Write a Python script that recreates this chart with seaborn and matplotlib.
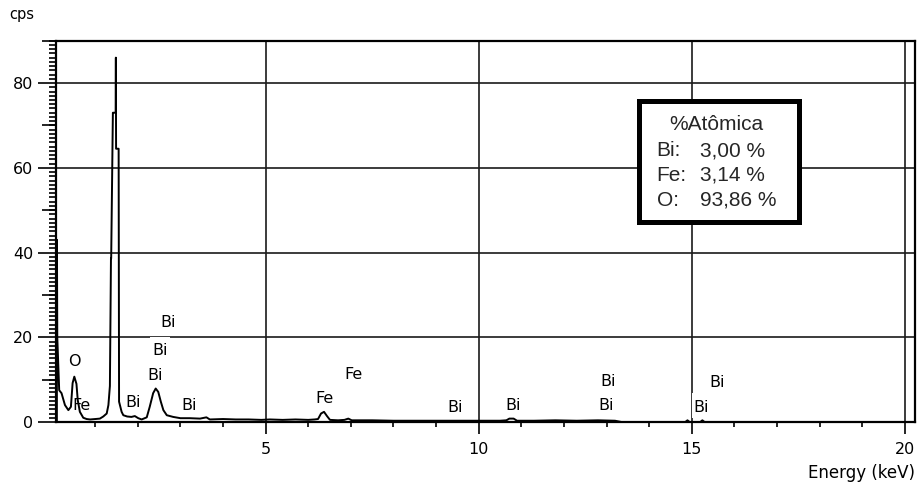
import matplotlib
matplotlib.use("Agg")
import matplotlib.pyplot as plt
from matplotlib.patches import Rectangle
from matplotlib.path import Path
from matplotlib.ticker import MultipleLocator, FixedLocator
import seaborn as sns
import pandas as pd

# EDS spectrum: energy (keV) and counts per second
energy = [0.100, 0.102, 0.110, 0.155, 0.21, 0.29, 0.37, 0.43, 0.47, 0.51, 0.56,
          0.59, 0.64, 0.72, 0.80, 0.88, 1.00, 1.11, 1.19, 1.27, 1.31, 1.345,
          1.370, 1.375, 1.415, 1.420, 1.480, 1.485, 1.490, 1.550, 1.560, 1.62,
          1.66, 1.75, 1.85, 1.93, 2.01, 2.09, 2.21, 2.28, 2.36, 2.42, 2.48,
          2.54, 2.60, 2.68, 2.83, 3.00, 3.22, 3.46, 3.61, 3.69, 4.00, 4.30,
          4.60, 4.90, 5.10, 5.40, 5.70, 6.00, 6.15, 6.23, 6.30, 6.37, 6.44,
          6.51, 6.70, 6.85, 6.94, 7.02, 7.50, 8.00, 8.50, 9.00, 9.50, 10.00,
          10.50, 10.65, 10.72, 10.82, 10.90, 11.30, 11.80, 12.30, 12.80, 13.20,
          13.35, 14.85, 14.90, 14.95, 15.20, 15.25, 15.30, 20.24]
cps = [0.0, 43.0, 20.0, 7.5, 6.8, 4.0, 2.8, 3.6, 9.2, 10.7, 9.0,
       5.2, 2.4, 1.0, 0.7, 0.6, 0.7, 0.8, 1.3, 2.0, 4.0, 8.5,
       38.6, 38.6, 73.0, 73.0, 73.0, 86.0, 64.5, 64.5, 4.8, 2.4,
       1.6, 1.3, 1.2, 1.4, 0.9, 0.6, 1.1, 3.6, 6.8, 7.9, 7.1,
       4.8, 2.8, 1.6, 1.2, 0.9, 0.9, 0.8, 1.1, 0.6, 0.7, 0.6,
       0.6, 0.5, 0.6, 0.5, 0.6, 0.5, 0.6, 0.7, 2.0, 2.4, 1.4,
       0.5, 0.4, 0.5, 0.8, 0.4, 0.4, 0.3, 0.3, 0.3, 0.3, 0.3,
       0.3, 0.4, 0.8, 0.8, 0.3, 0.3, 0.4, 0.3, 0.4, 0.3,
       0.0, 0.0, 0.4, 0.0, 0.0, 0.4, 0.0, 0.0]

# Element line markers: energy, height, element
line_energy = [0.50, 0.69, 1.89, 2.40, 2.52, 2.71, 3.20, 6.39, 7.06,
               9.44, 10.81, 13.03, 12.99, 15.23, 15.59]
line_height = [14.2, 3.8, 4.5, 10.9, 16.8, 23.4, 4.0, 5.5, 11.3,
               3.4, 3.8, 9.6, 3.8, 3.5, 9.3]
line_element = ["O", "Fe", "Bi", "Bi", "Bi", "Bi", "Bi", "Fe", "Fe",
                "Bi", "Bi", "Bi", "Bi", "Bi", "Bi"]

# Atomic composition
comp_elements = ["Bi:", "Fe:", "O:"]
comp_values = ["3,00 %", "3,14 %", "93,86 %"]
comp_title = "%Atômica"

x_major = [5, 10, 15, 20]
y_major = [0, 20, 40, 60, 80]
y_mid = [10, 30, 50, 70, 90]


def label_box(x0, y0, width, height, mutation_size):
    """Plain white backing for element markers, taller above than below."""
    px = 0.12 * mutation_size
    top = 0.40 * mutation_size
    bot = 0.20 * mutation_size
    xa, xb = x0 - px, x0 + width + px
    ya, yb = y0 - bot, y0 + height + top
    return Path([(xa, ya), (xb, ya), (xb, yb), (xa, yb), (xa, ya)],
                closed=True)


sns.set_theme(style="ticks")
plt.rcParams["font.family"] = ["DejaVu Sans"]

fig = plt.figure(figsize=(9.18, 4.86), dpi=100)
ax = fig.add_axes([56 / 918, 1 - 422 / 486, 859 / 918, 381.3 / 486])

df = pd.DataFrame({"Energy": energy, "cps": cps})
sns.lineplot(data=df, x="Energy", y="cps", ax=ax, estimator=None, sort=False,
             color="black", lw=1.4, zorder=4)

ax.set_xlim(0.08, 20.24)
ax.set_ylim(0, 90)
ax.set_xlabel("")
ax.set_ylabel("")

for s in ax.spines.values():
    s.set_linewidth(1.6)
    s.set_color("black")
    s.set_zorder(6)

ax.xaxis.set_major_locator(FixedLocator(x_major))
ax.xaxis.set_minor_locator(MultipleLocator(1))
ax.yaxis.set_major_locator(FixedLocator(y_major))
ax.yaxis.set_minor_locator(MultipleLocator(1))
ax.tick_params(axis="x", which="major", direction="out", length=8.6, width=1.2,
               pad=6, labelsize=11.5, colors="black")
ax.tick_params(axis="x", which="minor", direction="out", length=3.6, width=1.2,
               colors="black")
ax.tick_params(axis="y", which="major", direction="out", length=13, width=1.2,
               pad=3.5, labelsize=11.5, colors="black")
ax.tick_params(axis="y", which="minor", direction="out", length=5, width=1.2,
               colors="black")

sec = ax.secondary_yaxis("left")
sec.set_yticks(y_mid)
sec.tick_params(axis="y", which="major", direction="out", length=10, width=1.2,
                labelleft=False, colors="black")
sec.yaxis.set_minor_locator(FixedLocator([]))
for s in sec.spines.values():
    s.set_visible(False)

ax.grid(True, which="major", color="#1a1a1a", lw=1.2, zorder=0.5)
ax.set_axisbelow(True)

for xe, ye, el in zip(line_energy, line_height, line_element):
    ax.text(xe, ye, el, ha="center", va="center", fontsize=11.5, color="black",
            zorder=3, bbox=dict(boxstyle=label_box, fc="white", ec="none"))

fig.text(21.5 / 918, 1 - 15 / 486, "cps", ha="center", va="center",
         fontsize=10.5, color="black")
fig.text(915 / 918, 1 - 473 / 486, "Energy (keV)", ha="right", va="center",
         fontsize=12, color="black")

# Composition box
ax.add_patch(Rectangle((0.6787, 0.5250), 0.1857, 0.3174, transform=ax.transAxes,
                       fc="white", ec="black", lw=3.6, zorder=7))
box_font = ["Liberation Sans", "DejaVu Sans"]
ax.text(0.7692, 0.7658, comp_title, transform=ax.transAxes, ha="center",
        va="baseline", fontsize=15, family=box_font, zorder=8)
row_y = [0.6976, 0.6328, 0.5665]
for yy, el, val in zip(row_y, comp_elements, comp_values):
    ax.text(0.6993, yy, el, transform=ax.transAxes, ha="left", va="baseline",
            fontsize=15, family=box_font, zorder=8)
    ax.text(0.7497, yy, val, transform=ax.transAxes, ha="left", va="baseline",
            fontsize=15, family=box_font, zorder=8)

fig.savefig("out.png", dpi=100, facecolor="white")
